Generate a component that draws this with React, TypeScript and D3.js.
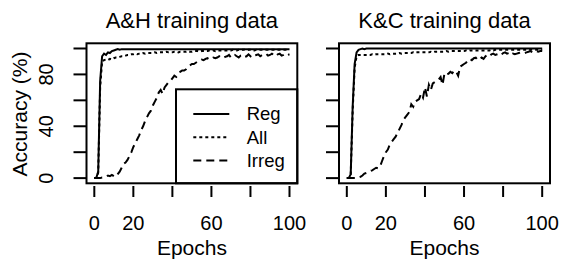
import React from "react";
import * as d3 from "d3";

const epochs: number[] = d3.range(0, 101);

const ahReg: number[] = [
  0, 0, 5, 75, 94, 96, 95, 97, 96.5, 98, 98.5, 99, 99.5, 99, 99.5, 99.5, 99.5, 99.5, 99.5, 99.5,
  99.5, 99.5, 99.5, 99.5, 99.5, 99.5, 99.5, 99.5, 99.5, 99.5, 99.5, 99.5, 99.5, 99.5, 99.5, 99.5, 99.5, 99.5, 99.5, 99.5,
  99.5, 99.5, 99.5, 99.5, 99.5, 99.5, 99.5, 99.5, 99.5, 99.5, 99.5, 99.5, 99.5, 99.5, 99.5, 99.5, 99.5, 99.5, 99.5, 99.5,
  99.5, 99.5, 99.5, 99.5, 99.5, 99.5, 99.5, 99.5, 99.5, 99.5, 99.5, 99.5, 99.5, 99.5, 99.5, 99.5, 99.5, 99.5, 99.5, 99.5,
  99.5, 99.5, 99.5, 99.5, 99.5, 99.5, 99.5, 99.5, 99.5, 99.5, 99.5, 99.5, 99.5, 99.5, 99.5, 99.5, 99.5, 99.5, 99.5, 99.5,
  99.5,
];
const ahAll: number[] = [
  0, 0, 4, 70, 90, 91, 91.5, 91, 92, 91.5, 92.5, 93, 93, 93.5, 94, 94, 94.5, 95, 95, 95.5,
  95.5, 96, 95.5, 96, 96, 96.5, 96, 96.5, 96.5, 96.5, 96.5, 97, 96.5, 97, 97, 97, 97, 97.5, 97, 97,
  97, 97.5, 97.5, 97, 97.5, 97.5, 97.5, 97.5, 98, 97.5, 97.5, 98, 98, 98, 97.5, 98, 98, 98, 98, 98.5,
  98, 98.5, 98, 98.5, 98.5, 98.5, 98.5, 98.5, 98.5, 98.5, 98.5, 99, 98.5, 98.5, 99, 98.5, 99, 99, 98.5, 99,
  99, 99, 98.5, 99, 99, 99, 99, 99, 99, 99, 99, 99, 99, 99, 99, 99, 99, 99, 99, 99,
  99,
];
const ahIrreg: number[] = [
  0, 0, 0, 0, 0.5, 0.5, 1, 2, 1.5, 2.5, 1.5, 1, 3, 5, 8, 11, 12, 14, 17, 20,
  24, 27, 30, 33, 37, 40, 44, 47, 50, 52, 56, 59, 62, 66, 68, 65, 70, 72, 74, 75,
  77, 79, 78, 80, 82, 83, 83, 84, 86, 87, 88, 88, 89, 90, 90.5, 91.5, 91, 92, 92.5, 91.5,
  92, 93, 92.5, 93, 94, 93, 92.5, 93.5, 94, 95, 93, 94, 95, 94, 93, 94.5, 95, 93.5, 94, 95.5,
  94, 93, 94.5, 95, 95.5, 94, 95, 95.5, 96, 94.5, 95, 96, 95, 94, 95.5, 96, 94.5, 95, 96, 95,
  95.5,
];

const kcReg: number[] = [
  0, 0, 3, 55, 88, 97, 99, 99.5, 100, 99.5, 100, 100, 100, 100, 100, 100, 100, 100, 100, 100,
  100, 100, 100, 100, 100, 100, 100, 100, 100, 100, 100, 100, 100, 100, 100, 100, 100, 100, 100, 100,
  100, 100, 100, 100, 100, 100, 100, 100, 100, 100, 100, 100, 100, 100, 100, 100, 100, 100, 100, 100,
  100, 100, 100, 100, 100, 100, 100, 100, 100, 100, 100, 100, 100, 100, 100, 100, 100, 100, 100, 100,
  100, 100, 100, 100, 100, 100, 100, 100, 100, 100, 100, 100, 100, 100, 100, 100, 100, 100, 100, 100,
  100,
];
const kcAll: number[] = [
  0, 0, 3, 52, 85, 94, 95, 95, 95, 95, 95, 95, 95, 95.5, 95, 95.5, 95.5, 95.5, 95.5, 95.5,
  95.5, 96, 95.5, 96, 96, 96, 96, 96.5, 96, 96.5, 96.5, 96.5, 96.5, 96.5, 97, 96.5, 97, 97, 97, 97,
  97, 97, 97, 97.5, 97, 97.5, 97.5, 97.5, 97.5, 97.5, 97.5, 98, 97.5, 98, 98, 98, 98, 98, 98, 98,
  98, 98.5, 98, 98.5, 98.5, 98.5, 98.5, 98.5, 98.5, 98.5, 98.5, 98.5, 98.5, 98.5, 99, 98.5, 99, 99, 99, 99,
  99, 99, 99, 99, 99, 99, 99, 99, 99, 99, 99, 99, 99, 99, 99, 99, 99, 99, 99, 99,
  99,
];
const kcIrreg: number[] = [
  0, 0, 0, 0, 0, 0, 0.5, 1, 2, 3.5, 4, 5, 5.5, 6, 7, 8, 7.5, 9, 13, 17,
  20, 22, 26, 28, 30, 32, 35, 38, 41, 45, 47, 49, 51, 57, 55, 59, 60, 61, 65, 62,
  70, 63, 72, 68, 73, 74, 75, 76, 78, 72, 81, 80, 80.5, 82, 81, 83, 82, 79, 86, 87,
  88, 89, 91, 92, 91, 92.5, 93, 91, 92, 93, 92, 94, 95, 94, 95.5, 96, 95, 95.5, 96, 95,
  96.5, 97, 96, 96.5, 95, 96, 95.5, 96, 96.5, 97, 97, 96.5, 97, 97.5, 98, 97, 97.5, 98, 97.5, 98,
  98,
];

const xTicks: number[] = [0, 20, 40, 60, 80, 100];
const xTickLabels: string[] = ["0", "20", "", "60", "", "100"];
const yTicks: number[] = [0, 20, 40, 60, 80, 100];
const yTickLabels: string[] = ["0", "", "40", "", "80", ""];
const titles: string[] = ["A&H training data", "K&C training data"];
const legendLabels: string[] = ["Reg", "All", "Irreg"];
const dashes: string[] = ["none", "3,3", "8,5"];

const FONT = "Liberation Sans, Arial, Helvetica, sans-serif";

type PanelProps = {
  left: number;
  right: number;
  title: string;
  series: number[][];
  showYLabels: boolean;
  showLegend: boolean;
};

const TOP = 43.3;
const BOTTOM = 183.3;

function Panel({ left, right, title, series, showYLabels, showLegend }: PanelProps) {
  const x = d3.scaleLinear().domain([-4, 104]).range([left, right]);
  const y = d3.scaleLinear().domain([-4, 104]).range([BOTTOM, TOP]);
  const line = d3
    .line<number>()
    .x((_, i) => x(epochs[i]))
    .y((d) => y(d));
  const cx = (left + right) / 2;
  return (
    <g>
      <text x={cx} y={28} textAnchor="middle" fontSize={22} fontFamily={FONT}>
        {title}
      </text>
      {series.map((s, i) => (
        <path
          key={i}
          d={line(s) || ""}
          fill="none"
          stroke="#000"
          strokeWidth={2}
          strokeDasharray={dashes[i]}
        />
      ))}
      {showLegend && (
        <g>
          <rect x={176} y={89.3} width={right - 176} height={BOTTOM - 89.3} fill="#fff" stroke="#000" strokeWidth={2} />
          {legendLabels.map((lab, i) => {
            const ly = 114 + i * 23.3;
            return (
              <g key={lab}>
                <line x1={193.3} x2={229.3} y1={ly} y2={ly} stroke="#000" strokeWidth={2} strokeDasharray={dashes[i]} />
                <text x={246.7} y={ly} dy="0.35em" fontSize={18.5} fontFamily={FONT}>
                  {lab}
                </text>
              </g>
            );
          })}
        </g>
      )}
      <rect x={left} y={TOP} width={right - left} height={BOTTOM - TOP} fill="none" stroke="#000" strokeWidth={2} />
      {xTicks.map((t, i) => (
        <g key={"x" + t}>
          <line x1={x(t)} x2={x(t)} y1={186} y2={197} stroke="#000" strokeWidth={2} />
          <text x={x(t)} y={230} textAnchor="middle" fontSize={20} fontFamily={FONT}>
            {xTickLabels[i]}
          </text>
        </g>
      ))}
      <text x={cx} y={255} textAnchor="middle" fontSize={21} fontFamily={FONT}>
        Epochs
      </text>
      {yTicks.map((t, i) => (
        <g key={"y" + t}>
          <line x1={left - 13} x2={left} y1={y(t)} y2={y(t)} stroke="#000" strokeWidth={2} />
          {showYLabels && (
            <text
              transform={`translate(53.3,${y(t)}) rotate(-90)`}
              textAnchor="middle"
              fontSize={20}
              fontFamily={FONT}
            >
              {yTickLabels[i]}
            </text>
          )}
        </g>
      ))}
      {showYLabels && (
        <text transform={`translate(26.7,114) rotate(-90)`} textAnchor="middle" fontSize={21} fontFamily={FONT}>
          Accuracy (%)
        </text>
      )}
    </g>
  );
}

export default function App() {
  return (
    <svg width={562} height={265} style={{ display: "block", position: "absolute", left: 0, top: 0 }}>
      <rect width={562} height={265} fill="#fff" />
      <Panel left={86.5} right={297.3} title={titles[0]} series={[ahReg, ahAll, ahIrreg]} showYLabels showLegend />
      <Panel left={339} right={550} title={titles[1]} series={[kcReg, kcAll, kcIrreg]} showYLabels={false} showLegend={false} />
    </svg>
  );
}
